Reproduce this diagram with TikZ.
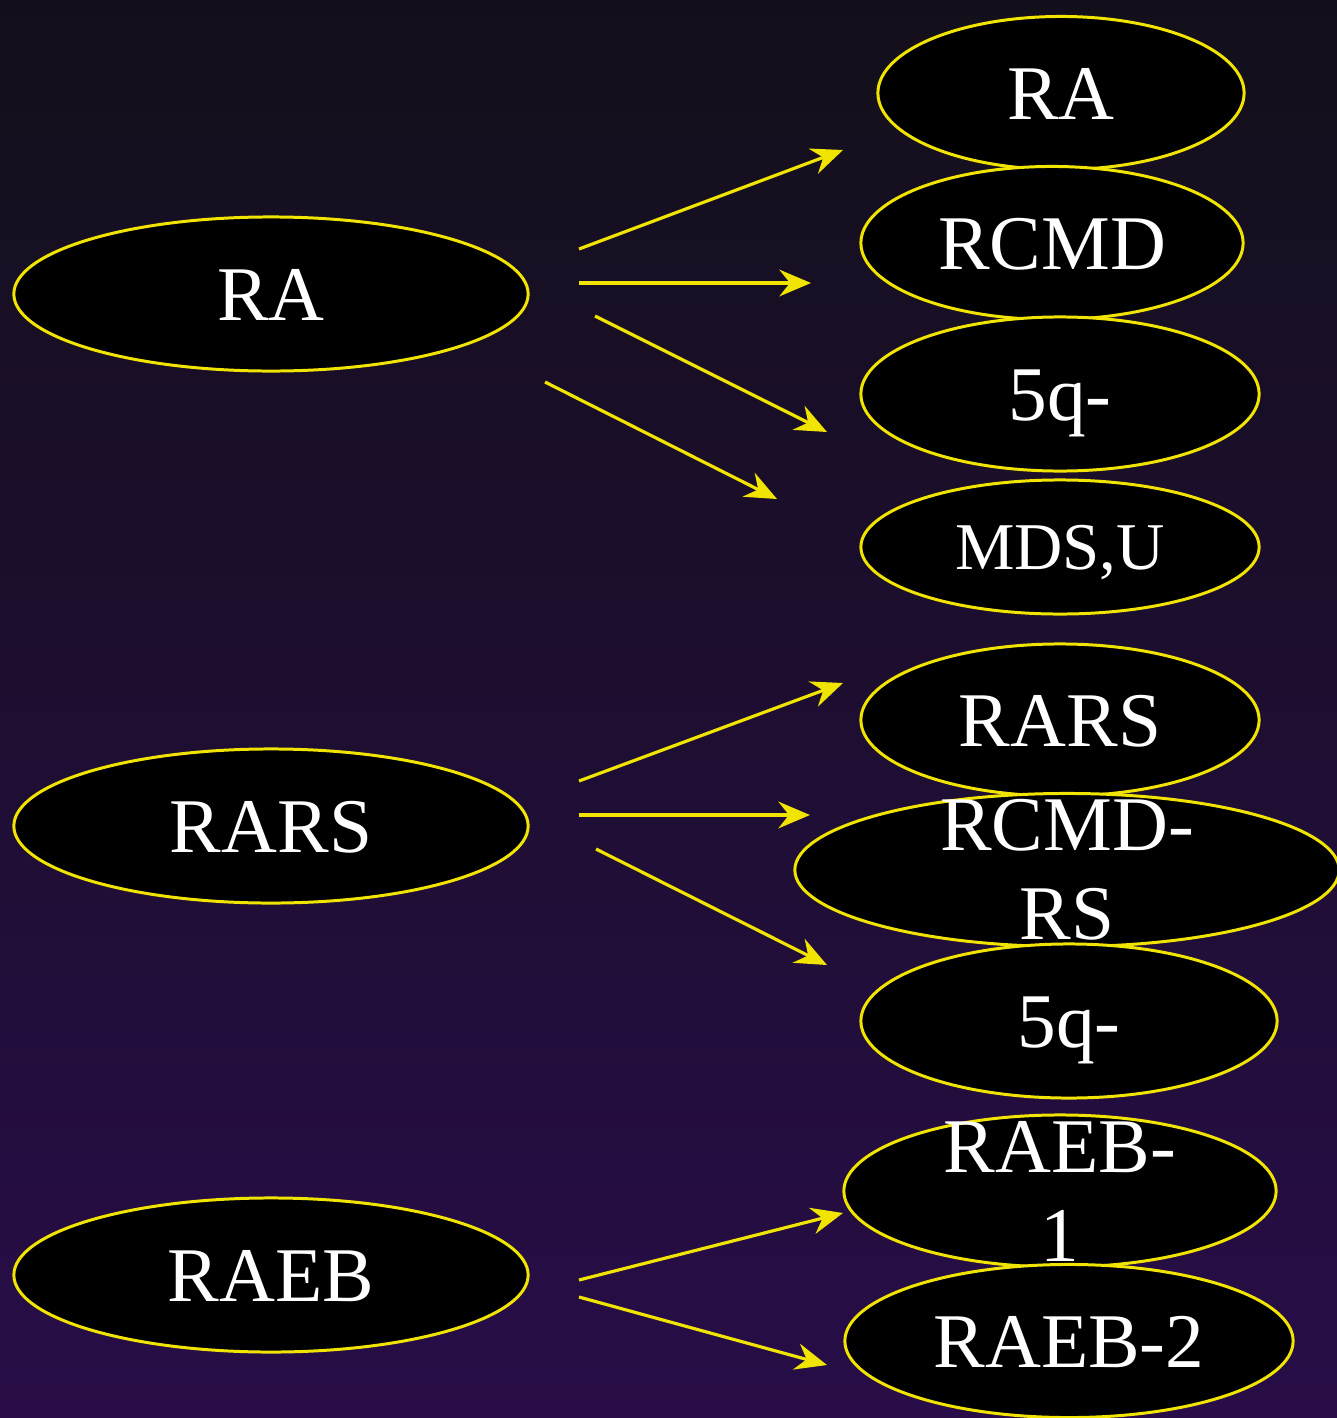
\documentclass[tikz,border=0pt]{standalone}
\usepackage{fontspec}
\setmainfont{Liberation Serif}
\usetikzlibrary{shapes.geometric,arrows.meta}
\definecolor{mdsyellow}{RGB}{240,228,0}
\definecolor{bgtop}{RGB}{19,15,26}
\definecolor{bgbottom}{RGB}{40,13,72}
\newcommand{\bigfont}{\fontsize{22}{25.3}\selectfont}
\newcommand{\smallfont}{\fontsize{19}{22}\selectfont}
\tikzset{
  oval/.style={ellipse,draw=mdsyellow,line width=0.85pt,fill=black,text=white,
    inner sep=0pt,font=\bigfont,text height=19.3pt,text depth=4.5pt},
  twoline/.style={align=center,text=white,font=\bigfont,inner sep=0pt},
  flow/.style={draw=mdsyellow,line width=0.9pt,
    -{Stealth[length=9pt,width=7.6pt,inset=3pt]}}
}

\begin{document}
\begin{tikzpicture}[x=0.01cm,y=-0.01cm]
  % background
  \useasboundingbox (0,0) rectangle (1337,1418);
  \shade[top color=bgtop,bottom color=bgbottom] (0,0) rectangle (1337,1418);

  % groups on the left
  \node[oval,minimum width=5.14cm,minimum height=1.54cm] (ra) at (271,294) {RA};
  \node[oval,minimum width=5.14cm,minimum height=1.54cm] (rars) at (271,826) {RARS};
  \node[oval,minimum width=5.14cm,minimum height=1.54cm] (raeb) at (271,1275) {RAEB};

  % subtypes on the right
  \node[oval,minimum width=3.66cm,minimum height=1.53cm] (ra2) at (1061,93) {RA};
  \node[oval,minimum width=3.82cm,minimum height=1.53cm] (rcmd) at (1052,243) {RCMD};
  \node[oval,minimum width=3.98cm,minimum height=1.54cm] (fiveq) at (1060,394) {5q-};
  \node[oval,minimum width=3.98cm,minimum height=1.34cm,font=\smallfont,
        text height=16.7pt,text depth=3.9pt] (mdsu) at (1060,547) {MDS,U};
  \node[oval,minimum width=3.98cm,minimum height=1.52cm] (rars2) at (1060,720) {RARS};
  \node[oval,minimum width=5.44cm,minimum height=1.53cm,
        label={[twoline]center:RCMD-\\RS}] (rcmdrs) at (1067,870) {};
  \node[oval,minimum width=4.16cm,minimum height=1.54cm] (fiveq2) at (1069,1021) {5q-};
  \node[oval,minimum width=4.32cm,minimum height=1.52cm,
        label={[twoline]center:RAEB-\\1}] (raeb1) at (1060,1191) {};
  \node[oval,minimum width=4.48cm,minimum height=1.53cm] (raeb2) at (1069,1341) {RAEB-2};

  % arrows
  \foreach \n/\sx/\sy/\ex/\ey in {1/579/249/843/150, 2/579/283/811/283,
      3/595/316/827/432, 4/545/382/777/499, 5/579/781/843/683,
      6/579/815/810/815, 7/596/849/827/965, 8/579/1280/843/1213,
      9/579/1297/827/1365}{
    \coordinate (s\n) at (\sx,\sy);
    \coordinate (e\n) at (\ex,\ey);
    \draw[flow] (s\n) -- (e\n);
  }
\end{tikzpicture}
\end{document}
